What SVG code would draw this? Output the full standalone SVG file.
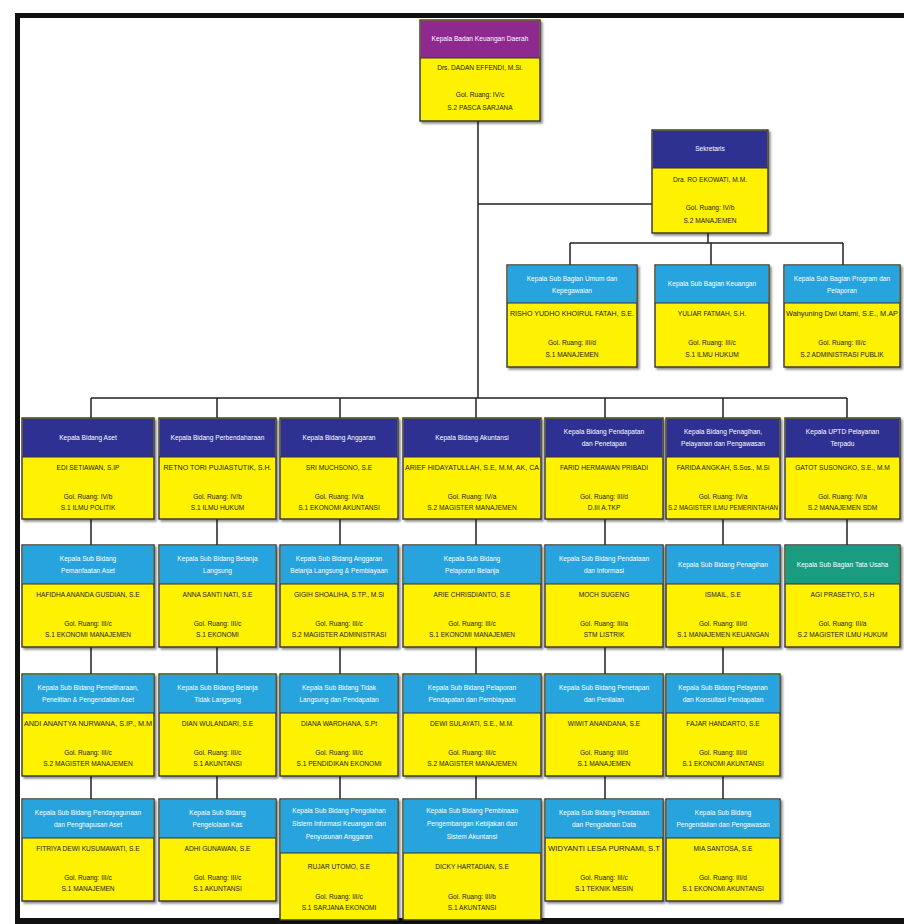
<svg xmlns="http://www.w3.org/2000/svg" width="904" height="924" viewBox="0 0 904 924">
<style>
text{font-family:"Liberation Sans",Arial,sans-serif;font-size:6.6px;text-anchor:middle}
.h{fill:#ffffff}
.b{fill:#1a1a1a}
.box{fill:#FFF200;stroke:#333333;stroke-width:1.4}
.sep{stroke:#333333;stroke-width:1.2}
.pu{fill:#8E2A8F}
.nv{fill:#2E3192}
.lb{fill:#27A4DD}
.tl{fill:#1A9C80}
.con{fill:none;stroke:#222222;stroke-width:1.5}
</style>
<defs>
<filter id="sh" x="-10%" y="-10%" width="125%" height="125%">
<feDropShadow dx="2" dy="2" stdDeviation="1.3" flood-color="#000000" flood-opacity="0.45"/>
</filter>
</defs>
<rect x="0" y="0" width="904" height="924" fill="#ffffff"/>
<rect x="15" y="13" width="889" height="5" fill="#111111"/>
<rect x="15" y="13" width="5" height="911" fill="#111111"/>
<rect x="15" y="918" width="889" height="6" fill="#111111"/>

<g id="connectors" class="con">
<path d="M478 121V398M478 204H652M708 233V243M570 243H843M570 243V265M711 243V265M843 243V265M91 398H847"/>
<path d="M91 398V418M217 398V418M340 398V418M476 398V418M605 398V418M723 398V418M847 398V418"/>
<path d="M91 519V545M217 519V545M340 519V545M476 519V545M605 519V545M723 519V545M847 519V545"/>
<path d="M91 647V674M217 647V674M340 647V674M476 647V674M605 647V674M723 647V674"/>
<path d="M91 776V799M217 776V799M340 776V799M476 776V799M605 776V799M723 776V799"/>
</g>

<!-- Top -->
<g id="kepala-badan" transform="translate(420,20)">
<rect class="box" width="120" height="101" filter="url(#sh)"/>
<rect class="pu" x="0.7" y="0.7" width="118.6" height="37.3"/>
<line class="sep" x1="0" y1="38" x2="120" y2="38"/>
<text class="h" x="60" y="21">Kepala Badan Keuangan Daerah</text>
<text class="b" x="60" y="50">Drs. DADAN EFFENDI, M.Si.</text>
<text class="b" x="60" y="77">Gol. Ruang: IV/c</text>
<text class="b" x="60" y="90">S.2 PASCA SARJANA</text>
</g>

<g id="sekretaris" transform="translate(652,130)">
<rect class="box" width="116" height="103" filter="url(#sh)"/>
<rect class="nv" x="0.7" y="0.7" width="114.6" height="37.3"/>
<line class="sep" x1="0" y1="38" x2="116" y2="38"/>
<text class="h" x="58" y="21">Sekretaris</text>
<text class="b" x="58" y="52">Dra. RO EKOWATI, M.M.</text>
<text class="b" x="58" y="80">Gol. Ruang: IV/b</text>
<text class="b" x="58" y="93">S.2 MANAJEMEN</text>
</g>

<g id="subbag-umum" transform="translate(507,265)">
<rect class="box" width="130" height="102" filter="url(#sh)"/>
<rect class="lb" x="0.7" y="0.7" width="128.6" height="37.3"/>
<line class="sep" x1="0" y1="38" x2="130" y2="38"/>
<text class="h" x="65" y="15.5">Kepala Sub Bagian Umum dan</text>
<text class="h" x="65" y="27.5">Kepegawaian</text>
<text class="b" x="65" y="51" textLength="124" lengthAdjust="spacingAndGlyphs">RISHO YUDHO KHOIRUL FATAH, S.E.</text>
<text class="b" x="65" y="80">Gol. Ruang: III/d</text>
<text class="b" x="65" y="92">S.1 MANAJEMEN</text>
</g>

<g id="subbag-keuangan" transform="translate(655,265)">
<rect class="box" width="114" height="102" filter="url(#sh)"/>
<rect class="lb" x="0.7" y="0.7" width="112.6" height="37.3"/>
<line class="sep" x1="0" y1="38" x2="114" y2="38"/>
<text class="h" x="57" y="21">Kepala Sub Bagian Keuangan</text>
<text class="b" x="57" y="51">YULIAR FATMAH, S.H.</text>
<text class="b" x="57" y="80">Gol. Ruang: III/c</text>
<text class="b" x="57" y="92">S.1 ILMU HUKUM</text>
</g>

<g id="subbag-program" transform="translate(784,265)">
<rect class="box" width="116" height="102" filter="url(#sh)"/>
<rect class="lb" x="0.7" y="0.7" width="114.6" height="37.3"/>
<line class="sep" x1="0" y1="38" x2="116" y2="38"/>
<text class="h" x="58" y="15.5">Kepala Sub Bagian Program dan</text>
<text class="h" x="58" y="27.5">Pelaporan</text>
<text class="b" x="58" y="51" textLength="112" lengthAdjust="spacingAndGlyphs">Wahyuning Dwi Utami, S.E., M.AP</text>
<text class="b" x="58" y="80">Gol. Ruang: III/c</text>
<text class="b" x="58" y="92">S.2 ADMINISTRASI PUBLIK</text>
</g>

<!-- Row 1 -->
<g id="bid-aset" transform="translate(22,418)">
<rect class="box" width="132" height="101" filter="url(#sh)"/>
<rect class="nv" x="0.7" y="0.7" width="130.6" height="38.3"/>
<line class="sep" x1="0" y1="39" x2="132" y2="39"/>
<text class="h" x="66" y="21.5">Kepala Bidang Aset</text>
<text class="b" x="66" y="52">EDI SETIAWAN, S.IP</text>
<text class="b" x="66" y="81">Gol. Ruang: IV/b</text>
<text class="b" x="66" y="92">S.1 ILMU POLITIK</text>
</g>
<g id="bid-perbendaharaan" transform="translate(159,418)">
<rect class="box" width="117" height="101" filter="url(#sh)"/>
<rect class="nv" x="0.7" y="0.7" width="115.6" height="38.3"/>
<line class="sep" x1="0" y1="39" x2="117" y2="39"/>
<text class="h" x="58.5" y="21.5">Kepala Bidang Perbendaharaan</text>
<text class="b" x="58.5" y="52" textLength="108" lengthAdjust="spacingAndGlyphs">RETNO TORI PUJIASTUTIK, S.H.</text>
<text class="b" x="58.5" y="81">Gol. Ruang: IV/b</text>
<text class="b" x="58.5" y="92">S.1 ILMU HUKUM</text>
</g>
<g id="bid-anggaran" transform="translate(280,418)">
<rect class="box" width="118" height="101" filter="url(#sh)"/>
<rect class="nv" x="0.7" y="0.7" width="116.6" height="38.3"/>
<line class="sep" x1="0" y1="39" x2="118" y2="39"/>
<text class="h" x="59" y="21.5">Kepala Bidang Anggaran</text>
<text class="b" x="59" y="52">SRI MUCHSONO, S.E</text>
<text class="b" x="59" y="81">Gol. Ruang: IV/a</text>
<text class="b" x="59" y="92">S.1 EKONOMI AKUNTANSI</text>
</g>
<g id="bid-akuntansi" transform="translate(403,418)">
<rect class="box" width="138" height="101" filter="url(#sh)"/>
<rect class="nv" x="0.7" y="0.7" width="136.6" height="38.3"/>
<line class="sep" x1="0" y1="39" x2="138" y2="39"/>
<text class="h" x="69" y="21.5">Kepala Bidang Akuntansi</text>
<text class="b" x="69" y="52" textLength="134" lengthAdjust="spacingAndGlyphs">ARIEF HIDAYATULLAH, S.E, M.M, AK, CA</text>
<text class="b" x="69" y="81">Gol. Ruang: IV/a</text>
<text class="b" x="69" y="92">S.2 MAGISTER MANAJEMEN</text>
</g>
<g id="bid-pendapatan" transform="translate(545,418)">
<rect class="box" width="118" height="101" filter="url(#sh)"/>
<rect class="nv" x="0.7" y="0.7" width="116.6" height="38.3"/>
<line class="sep" x1="0" y1="39" x2="118" y2="39"/>
<text class="h" x="59" y="15.7">Kepala Bidang Pendapatan</text>
<text class="h" x="59" y="27.7">dan Penetapan</text>
<text class="b" x="59" y="52">FARID HERMAWAN PRIBADI</text>
<text class="b" x="59" y="81">Gol. Ruang: III/d</text>
<text class="b" x="59" y="92">D.III A.TKP</text>
</g>
<g id="bid-penagihan" transform="translate(666,418)">
<rect class="box" width="114" height="101" filter="url(#sh)"/>
<rect class="nv" x="0.7" y="0.7" width="112.6" height="38.3"/>
<line class="sep" x1="0" y1="39" x2="114" y2="39"/>
<text class="h" x="57" y="15.7">Kepala Bidang Penagihan,</text>
<text class="h" x="57" y="27.7">Pelayanan dan Pengawasan</text>
<text class="b" x="57" y="52">FARIDA ANGKAH, S.Sos., M.Si</text>
<text class="b" x="57" y="81">Gol. Ruang: IV/a</text>
<text class="b" x="57" y="92" textLength="110" lengthAdjust="spacingAndGlyphs">S.2 MAGISTER ILMU PEMERINTAHAN</text>
</g>
<g id="uptd" transform="translate(785,418)">
<rect class="box" width="115" height="101" filter="url(#sh)"/>
<rect class="nv" x="0.7" y="0.7" width="113.6" height="38.3"/>
<line class="sep" x1="0" y1="39" x2="115" y2="39"/>
<text class="h" x="57.5" y="15.7">Kepala UPTD Pelayanan</text>
<text class="h" x="57.5" y="27.7">Terpadu</text>
<text class="b" x="57.5" y="52">GATOT SUSONGKO, S.E., M.M</text>
<text class="b" x="57.5" y="81">Gol. Ruang: IV/a</text>
<text class="b" x="57.5" y="92">S.2 MANAJEMEN SDM</text>
</g>

<!-- Row 2 -->
<g id="sub-pemanfaatan" transform="translate(22,545)">
<rect class="box" width="132" height="102" filter="url(#sh)"/>
<rect class="lb" x="0.7" y="0.7" width="130.6" height="38.3"/>
<line class="sep" x1="0" y1="39" x2="132" y2="39"/>
<text class="h" x="66" y="15.7">Kepala Sub Bidang</text>
<text class="h" x="66" y="27.7">Pemanfaatan Aset</text>
<text class="b" x="66" y="52">HAFIDHA ANANDA GUSDIAN, S.E</text>
<text class="b" x="66" y="81">Gol. Ruang: III/c</text>
<text class="b" x="66" y="92">S.1 EKONOMI MANAJEMEN</text>
</g>
<g id="sub-belanja-langsung" transform="translate(159,545)">
<rect class="box" width="117" height="102" filter="url(#sh)"/>
<rect class="lb" x="0.7" y="0.7" width="115.6" height="38.3"/>
<line class="sep" x1="0" y1="39" x2="117" y2="39"/>
<text class="h" x="58.5" y="15.7">Kepala Sub Bidang Belanja</text>
<text class="h" x="58.5" y="27.7">Langsung</text>
<text class="b" x="58.5" y="52">ANNA SANTI NATI, S.E</text>
<text class="b" x="58.5" y="81">Gol. Ruang: III/c</text>
<text class="b" x="58.5" y="92">S.1 EKONOMI</text>
</g>
<g id="sub-anggaran-bl" transform="translate(280,545)">
<rect class="box" width="118" height="102" filter="url(#sh)"/>
<rect class="lb" x="0.7" y="0.7" width="116.6" height="38.3"/>
<line class="sep" x1="0" y1="39" x2="118" y2="39"/>
<text class="h" x="59" y="15.7">Kepala Sub Bidang Anggaran</text>
<text class="h" x="59" y="27.7">Belanja Langsung &amp; Pembiayaan</text>
<text class="b" x="59" y="52">GIGIH SHOALIHA, S.TP., M.Si</text>
<text class="b" x="59" y="81">Gol. Ruang: III/c</text>
<text class="b" x="59" y="92">S.2 MAGISTER ADMINISTRASI</text>
</g>
<g id="sub-pelaporan-belanja" transform="translate(403,545)">
<rect class="box" width="138" height="102" filter="url(#sh)"/>
<rect class="lb" x="0.7" y="0.7" width="136.6" height="38.3"/>
<line class="sep" x1="0" y1="39" x2="138" y2="39"/>
<text class="h" x="69" y="15.7">Kepala Sub Bidang</text>
<text class="h" x="69" y="27.7">Pelaporan Belanja</text>
<text class="b" x="69" y="52">ARIE CHRISDIANTO, S.E</text>
<text class="b" x="69" y="81">Gol. Ruang: III/c</text>
<text class="b" x="69" y="92">S.1 EKONOMI MANAJEMEN</text>
</g>
<g id="sub-pendataan-informasi" transform="translate(545,545)">
<rect class="box" width="118" height="102" filter="url(#sh)"/>
<rect class="lb" x="0.7" y="0.7" width="116.6" height="38.3"/>
<line class="sep" x1="0" y1="39" x2="118" y2="39"/>
<text class="h" x="59" y="15.7">Kepala Sub Bidang Pendataan</text>
<text class="h" x="59" y="27.7">dan Informasi</text>
<text class="b" x="59" y="52">MOCH SUGENG</text>
<text class="b" x="59" y="81">Gol. Ruang: III/a</text>
<text class="b" x="59" y="92">STM LISTRIK</text>
</g>
<g id="sub-penagihan" transform="translate(666,545)">
<rect class="box" width="114" height="102" filter="url(#sh)"/>
<rect class="lb" x="0.7" y="0.7" width="112.6" height="38.3"/>
<line class="sep" x1="0" y1="39" x2="114" y2="39"/>
<text class="h" x="57" y="21.5">Kepala Sub Bidang Penagihan</text>
<text class="b" x="57" y="52">ISMAIL, S.E</text>
<text class="b" x="57" y="81">Gol. Ruang: III/d</text>
<text class="b" x="57" y="92">S.1 MANAJEMEN KEUANGAN</text>
</g>
<g id="sub-tata-usaha" transform="translate(785,545)">
<rect class="box" width="115" height="102" filter="url(#sh)"/>
<rect class="tl" x="0.7" y="0.7" width="113.6" height="38.3"/>
<line class="sep" x1="0" y1="39" x2="115" y2="39"/>
<text class="h" x="57.5" y="21.5">Kepala Sub Bagian Tata Usaha</text>
<text class="b" x="57.5" y="52">AGI PRASETYO, S.H</text>
<text class="b" x="57.5" y="81">Gol. Ruang: III/a</text>
<text class="b" x="57.5" y="92">S.2 MAGISTER ILMU HUKUM</text>
</g>

<!-- Row 3 -->
<g id="sub-pemeliharaan" transform="translate(22,674)">
<rect class="box" width="132" height="102" filter="url(#sh)"/>
<rect class="lb" x="0.7" y="0.7" width="130.6" height="38.3"/>
<line class="sep" x1="0" y1="39" x2="132" y2="39"/>
<text class="h" x="66" y="15.7">Kepala Sub Bidang Pemeliharaan,</text>
<text class="h" x="66" y="27.7">Penelitian &amp; Pengendalian Aset</text>
<text class="b" x="66" y="52" textLength="128" lengthAdjust="spacingAndGlyphs">ANDI ANANTYA NURWANA, S.IP., M.M</text>
<text class="b" x="66" y="81">Gol. Ruang: III/c</text>
<text class="b" x="66" y="92">S.2 MAGISTER MANAJEMEN</text>
</g>
<g id="sub-belanja-tl" transform="translate(159,674)">
<rect class="box" width="117" height="102" filter="url(#sh)"/>
<rect class="lb" x="0.7" y="0.7" width="115.6" height="38.3"/>
<line class="sep" x1="0" y1="39" x2="117" y2="39"/>
<text class="h" x="58.5" y="15.7">Kepala Sub Bidang Belanja</text>
<text class="h" x="58.5" y="27.7">Tidak Langsung</text>
<text class="b" x="58.5" y="52">DIAN WULANDARI, S.E</text>
<text class="b" x="58.5" y="81">Gol. Ruang: III/c</text>
<text class="b" x="58.5" y="92">S.1 AKUNTANSI</text>
</g>
<g id="sub-tl-pendapatan" transform="translate(280,674)">
<rect class="box" width="118" height="102" filter="url(#sh)"/>
<rect class="lb" x="0.7" y="0.7" width="116.6" height="38.3"/>
<line class="sep" x1="0" y1="39" x2="118" y2="39"/>
<text class="h" x="59" y="15.7">Kepala Sub Bidang Tidak</text>
<text class="h" x="59" y="27.7">Langsung dan Pendapatan</text>
<text class="b" x="59" y="52">DIANA WARDHANA, S.Pt</text>
<text class="b" x="59" y="81">Gol. Ruang: III/c</text>
<text class="b" x="59" y="92">S.1 PENDIDIKAN EKONOMI</text>
</g>
<g id="sub-pelaporan-pendapatan" transform="translate(403,674)">
<rect class="box" width="138" height="102" filter="url(#sh)"/>
<rect class="lb" x="0.7" y="0.7" width="136.6" height="38.3"/>
<line class="sep" x1="0" y1="39" x2="138" y2="39"/>
<text class="h" x="69" y="15.7">Kepala Sub Bidang Pelaporan</text>
<text class="h" x="69" y="27.7">Pendapatan dan Pembiayaan</text>
<text class="b" x="69" y="52">DEWI SULAYATI, S.E., M.M.</text>
<text class="b" x="69" y="81">Gol. Ruang: III/c</text>
<text class="b" x="69" y="92">S.2 MAGISTER MANAJEMEN</text>
</g>
<g id="sub-penetapan" transform="translate(545,674)">
<rect class="box" width="118" height="102" filter="url(#sh)"/>
<rect class="lb" x="0.7" y="0.7" width="116.6" height="38.3"/>
<line class="sep" x1="0" y1="39" x2="118" y2="39"/>
<text class="h" x="59" y="15.7">Kepala Sub Bidang Penetapan</text>
<text class="h" x="59" y="27.7">dan Penilaian</text>
<text class="b" x="59" y="52">WIWIT ANANDANA, S.E</text>
<text class="b" x="59" y="81">Gol. Ruang: III/d</text>
<text class="b" x="59" y="92">S.1 MANAJEMEN</text>
</g>
<g id="sub-pelayanan" transform="translate(666,674)">
<rect class="box" width="114" height="102" filter="url(#sh)"/>
<rect class="lb" x="0.7" y="0.7" width="112.6" height="38.3"/>
<line class="sep" x1="0" y1="39" x2="114" y2="39"/>
<text class="h" x="57" y="15.7">Kepala Sub Bidang Pelayanan</text>
<text class="h" x="57" y="27.7">dan Konsultasi Pendapatan</text>
<text class="b" x="57" y="52">FAJAR HANDARTO, S.E</text>
<text class="b" x="57" y="81">Gol. Ruang: III/d</text>
<text class="b" x="57" y="92">S.1 EKONOMI AKUNTANSI</text>
</g>

<!-- Row 4 -->
<g id="sub-pendayagunaan" transform="translate(22,799)">
<rect class="box" width="132" height="102" filter="url(#sh)"/>
<rect class="lb" x="0.7" y="0.7" width="130.6" height="38.3"/>
<line class="sep" x1="0" y1="39" x2="132" y2="39"/>
<text class="h" x="66" y="15.7">Kepala Sub Bidang Pendayagunaan</text>
<text class="h" x="66" y="27.7">dan Penghapusan Aset</text>
<text class="b" x="66" y="52">FITRIYA DEWI KUSUMAWATI, S.E</text>
<text class="b" x="66" y="81">Gol. Ruang: III/c</text>
<text class="b" x="66" y="92">S.1 MANAJEMEN</text>
</g>
<g id="sub-kas" transform="translate(159,799)">
<rect class="box" width="117" height="102" filter="url(#sh)"/>
<rect class="lb" x="0.7" y="0.7" width="115.6" height="38.3"/>
<line class="sep" x1="0" y1="39" x2="117" y2="39"/>
<text class="h" x="58.5" y="15.7">Kepala Sub Bidang</text>
<text class="h" x="58.5" y="27.7">Pengelolaan Kas</text>
<text class="b" x="58.5" y="52">ADHI GUNAWAN, S.E</text>
<text class="b" x="58.5" y="81">Gol. Ruang: III/c</text>
<text class="b" x="58.5" y="92">S.1 AKUNTANSI</text>
</g>
<g id="sub-sistem-informasi" transform="translate(280,799)">
<rect class="box" width="118" height="121" filter="url(#sh)"/>
<rect class="lb" x="0.7" y="0.7" width="116.6" height="53.3"/>
<line class="sep" x1="0" y1="54" x2="118" y2="54"/>
<text class="h" x="59" y="14">Kepala Sub Bidang Pengolahan</text>
<text class="h" x="59" y="27">Sistem Informasi Keuangan dan</text>
<text class="h" x="59" y="40">Penyusunan Anggaran</text>
<text class="b" x="59" y="70">RUJAR UTOMO, S.E</text>
<text class="b" x="59" y="100">Gol. Ruang: III/c</text>
<text class="b" x="59" y="111">S.1 SARJANA EKONOMI</text>
</g>
<g id="sub-pembinaan" transform="translate(403,799)">
<rect class="box" width="138" height="121" filter="url(#sh)"/>
<rect class="lb" x="0.7" y="0.7" width="136.6" height="53.3"/>
<line class="sep" x1="0" y1="54" x2="138" y2="54"/>
<text class="h" x="69" y="14">Kepala Sub Bidang Pembinaan</text>
<text class="h" x="69" y="27">Pengembangan Kebijakan dan</text>
<text class="h" x="69" y="40">Sistem Akuntansi</text>
<text class="b" x="69" y="70">DICKY HARTADIAN, S.E</text>
<text class="b" x="69" y="100">Gol. Ruang: III/b</text>
<text class="b" x="69" y="111">S.1 AKUNTANSI</text>
</g>
<g id="sub-pengolahan-data" transform="translate(545,799)">
<rect class="box" width="118" height="102" filter="url(#sh)"/>
<rect class="lb" x="0.7" y="0.7" width="116.6" height="38.3"/>
<line class="sep" x1="0" y1="39" x2="118" y2="39"/>
<text class="h" x="59" y="15.7">Kepala Sub Bidang Pendataan</text>
<text class="h" x="59" y="27.7">dan Pengolahan Data</text>
<text class="b" x="59" y="52" textLength="112" lengthAdjust="spacingAndGlyphs">WIDYANTI LESA PURNAMI, S.T</text>
<text class="b" x="59" y="81">Gol. Ruang: III/c</text>
<text class="b" x="59" y="92">S.1 TEKNIK MESIN</text>
</g>
<g id="sub-pengendalian" transform="translate(666,799)">
<rect class="box" width="114" height="102" filter="url(#sh)"/>
<rect class="lb" x="0.7" y="0.7" width="112.6" height="38.3"/>
<line class="sep" x1="0" y1="39" x2="114" y2="39"/>
<text class="h" x="57" y="15.7">Kepala Sub Bidang</text>
<text class="h" x="57" y="27.7">Pengendalian dan Pengawasan</text>
<text class="b" x="57" y="52">MIA SANTOSA, S.E</text>
<text class="b" x="57" y="81">Gol. Ruang: III/d</text>
<text class="b" x="57" y="92">S.1 EKONOMI AKUNTANSI</text>
</g>
</svg>
